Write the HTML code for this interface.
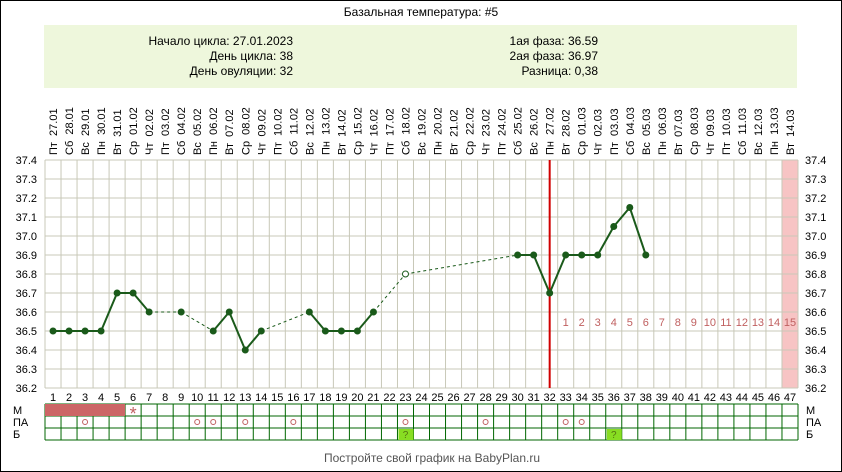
<!DOCTYPE html>
<html><head><meta charset="utf-8"><style>
body{margin:0;background:#fff}
svg{display:block;font-family:"Liberation Sans",sans-serif}
</style></head><body>
<svg id="s" width="842" height="472" xmlns="http://www.w3.org/2000/svg"></svg>
<script>
const s=document.getElementById('s');
let h='';
const X0=45,CW=753/47,Y0=160,RH=19;
const cx=i=>X0+(i-0.5)*CW;
const yv=v=>Y0+(37.4-v)*10*RH;
h+='<rect x="0.5" y="0.5" width="841" height="471" fill="#fff" stroke="#000"/>';
h+='<text x="421" y="16" font-size="12" text-anchor="middle">Базальная температура: #5</text>';
h+='<rect x="44" y="25" width="753" height="63" fill="#eef7dc"/>';
const L=['Начало цикла: 27.01.2023','День цикла: 38','День овуляции: 32'];
const R=['1ая фаза: 36.59','2ая фаза: 36.97','Разница: 0,38'];
for(let k=0;k<3;k++){h+=`<text x="293" y="${45+k*15}" font-size="12" text-anchor="end">${L[k]}</text>`;
h+=`<text x="598" y="${45+k*15}" font-size="12" text-anchor="end">${R[k]}</text>`;}
h+=`<rect x="${X0+46*CW}" y="${Y0}" width="${CW}" height="${12*RH}" fill="#f7c4c4"/>`;
for(let i=0;i<=47;i++){const x=X0+i*CW;h+=`<line x1="${x}" y1="${Y0}" x2="${x}" y2="${Y0+12*RH}" stroke="#c8c8b8"/>`;}
for(let j=0;j<=12;j++){const y=Y0+j*RH;h+=`<line x1="${X0}" y1="${y}" x2="${X0+753}" y2="${y}" stroke="#c8c8b8"/>`;
const v=(37.4-j/10).toFixed(1);
h+=`<text x="37" y="${y+4}" font-size="11" text-anchor="end">${v}</text><text x="805" y="${y+4}" font-size="11">${v}</text>`;}
const wd=['Пн','Вт','Ср','Чт','Пт','Сб','Вс'];
const d0=new Date(2023,0,27);
for(let i=1;i<=47;i++){const d=new Date(d0.getTime()+(i-1)*864e5);
const w=wd[(d.getDay()+6)%7];const ds=String(d.getDate()).padStart(2,'0')+'.'+String(d.getMonth()+1).padStart(2,'0');
const x=cx(i)+4;
h+=`<text transform="translate(${x},155) rotate(-90)" font-size="11" xml:space="preserve">${w}  ${ds}</text>`;
h+=`<text x="${cx(i)}" y="401" font-size="11" text-anchor="middle">${i}</text>`;
if(i>=33)h+=`<text x="${cx(i)}" y="326" font-size="11" text-anchor="middle" fill="#c06060">${i-32}</text>`;}
h+=`<line x1="${cx(32)}" y1="${Y0}" x2="${cx(32)}" y2="${Y0+12*RH}" stroke="#d00000" stroke-width="2"/>`;
const P={1:36.5,2:36.5,3:36.5,4:36.5,5:36.7,6:36.7,7:36.6,9:36.6,11:36.5,12:36.6,13:36.4,14:36.5,17:36.6,18:36.5,19:36.5,20:36.5,21:36.6,23:36.8,30:36.9,31:36.9,32:36.7,33:36.9,34:36.9,35:36.9,36:37.05,37:37.15,38:36.9};
const days=Object.keys(P).map(Number).sort((a,b)=>a-b);
for(let k=0;k<days.length-1;k++){const a=days[k],b=days[k+1];const dash=b-a>1;
h+=`<line x1="${cx(a)}" y1="${yv(P[a])}" x2="${cx(b)}" y2="${yv(P[b])}" stroke="#1a5a1a" stroke-width="${dash?1:2}" ${dash?'stroke-dasharray="3,3"':''}/>`;}
for(const d of days){if(d==23)h+=`<circle cx="${cx(d)}" cy="${yv(P[d])}" r="3" fill="#fff" stroke="#1a5a1a"/>`;
else h+=`<circle cx="${cx(d)}" cy="${yv(P[d])}" r="3.5" fill="#1a5a1a"/>`;}
const TY=404,TR=12;
for(let j=0;j<=3;j++)h+=`<line x1="${X0}" y1="${TY+j*TR}" x2="${X0+753}" y2="${TY+j*TR}" stroke="#006600"/>`;
for(let i=0;i<=47;i++){const x=X0+i*CW;h+=`<line x1="${x}" y1="${TY}" x2="${x}" y2="${TY+3*TR}" stroke="#006600"/>`;}
h+=`<rect x="${X0}" y="${TY}" width="${5*CW}" height="${TR}" fill="#cc6666"/>`;
for(const d of [23,36])h+=`<rect x="${X0+(d-1)*CW+1}" y="${TY+2*TR+1}" width="${CW-1}" height="${TR-1}" fill="#88dd22"/><text x="${cx(d)}" y="${TY+3*TR-2}" font-size="10" text-anchor="middle" fill="#557711">?</text>`;
h+=`<text x="${cx(6)}" y="${TY+16}" font-size="18" text-anchor="middle" fill="#c06060">*</text>`;
for(const d of [3,10,11,13,16,23,28,33,34])h+=`<circle cx="${cx(d)}" cy="${TY+TR*1.5}" r="2.5" fill="none" stroke="#c06060"/>`;
const lab=['М','ПА','Б'];
for(let j=0;j<3;j++){h+=`<text x="13" y="${TY+10+j*TR}" font-size="11">${lab[j]}</text><text x="806" y="${TY+10+j*TR}" font-size="11">${lab[j]}</text>`;}
h+='<text x="432" y="462" font-size="12" text-anchor="middle" fill="#555">Постройте свой график на BabyPlan.ru</text>';
s.innerHTML=h;
</script>
</body></html>
